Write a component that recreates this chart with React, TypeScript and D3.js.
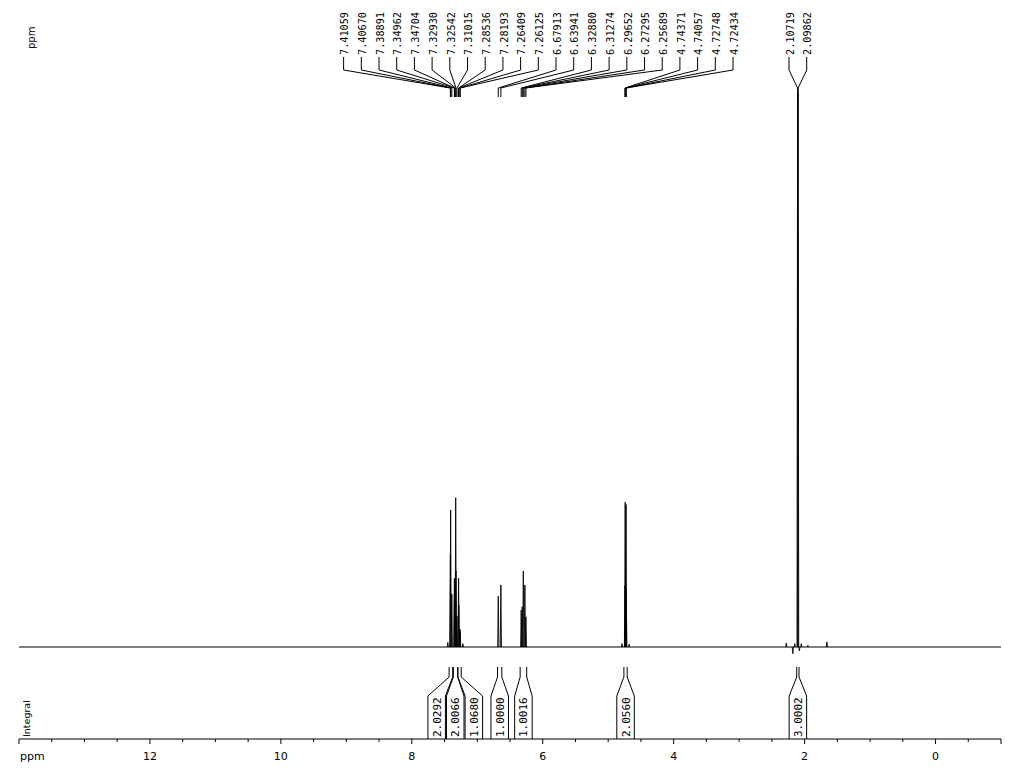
import { useEffect, useRef } from "react";
import * as d3 from "d3";

// 1H NMR peak list (ppm) with relative intensities (CH3 singlet = 100)
const peakPpm = [
  7.41059, 7.4067, 7.38891, 7.34962, 7.34704, 7.3293, 7.32542, 7.31015, 7.28536, 7.28193, 7.26409, 7.26125,
  6.67913, 6.63941,
  6.3288, 6.31274, 6.29652, 6.27295, 6.25689,
  4.74371, 4.74057, 4.72748, 4.72434,
  2.10719, 2.09862,
];
const peakHeight = [
  16.6, 24.5, 9.5, 12.3, 11.0, 26.7, 13.6, 5.5, 12.3, 7.5, 3.2, 2.8,
  9.1, 11.1,
  6.6, 7.2, 13.6, 11.1, 5.4,
  11.0, 25.9, 25.5, 10.5,
  100, 99,
];

// small unlabelled signals (satellites, impurities)
const minorPpm = [7.45, 7.22, 4.79, 4.68, 2.28, 2.18, 2.15, 2.08, 2.05, 1.95, 1.66];
const minorHeight = [0.8, 0.6, 0.6, 0.5, 0.7, -1.2, 0.6, -0.7, 0.6, 0.3, 0.9];

// integral regions
const integralFrom = [7.43, 7.365, 7.295, 6.69, 6.345, 4.76, 2.12];
const integralTo = [7.375, 7.3, 7.245, 6.625, 6.245, 4.71, 2.085];
const integralValue = ["2.0292", "2.0066", "1.0680", "1.0000", "1.0016", "2.0560", "3.0002"];

const axisTicks = [12, 10, 8, 6, 4, 2, 0];

const W = 1024;
const H = 768;

// place labels of pitch `pitch` as close as possible to their targets without overlap
function spreadLabels(targets: number[], pitch: number): number[] {
  let clusters = targets.map((_, i) => [i]);
  const start = (c: number[]) => {
    const xs = c.map((i) => targets[i]);
    const mid = (Math.min(...xs) + Math.max(...xs)) / 2;
    return mid - ((c.length - 1) * pitch) / 2;
  };
  let merged = true;
  while (merged) {
    merged = false;
    for (let k = 0; k < clusters.length - 1; k++) {
      const a = clusters[k];
      const b = clusters[k + 1];
      const aEnd = start(a) + (a.length - 1) * pitch;
      if (start(b) - aEnd < pitch) {
        clusters.splice(k, 2, [...a, ...b]);
        merged = true;
        break;
      }
    }
  }
  const out: number[] = [];
  clusters.forEach((c) => {
    const s = start(c);
    c.forEach((i, j) => (out[i] = s + j * pitch));
  });
  return out;
}

export default function App() {
  const ref = useRef<SVGSVGElement>(null);

  useEffect(() => {
    const svg = d3.select(ref.current);
    svg.selectAll("*").remove();

    const axisY = 739;
    const baseY = 647;

    const x = d3.scaleLinear().domain([14, -1]).range([19, 1001]);
    const y = d3.scaleLinear().domain([0, 100]).range([baseY, 88]);

    svg.append("rect").attr("width", W).attr("height", H).attr("fill", "#fff");

    const g = svg.append("g").attr("fill", "none").attr("stroke", "#000").attr("stroke-width", 1);

    // baseline of the spectrum
    g.append("line")
      .attr("x1", x(14)).attr("x2", x(-1))
      .attr("y1", y(0)).attr("y2", y(0));

    // peaks drawn as narrow spikes
    const hw = 0.009;
    const spike = d3.line<[number, number]>().x((d) => x(d[0])).y((d) => y(d[1]));
    const allPpm = [...peakPpm, ...minorPpm];
    const allH = [...peakHeight, ...minorHeight];
    allPpm.forEach((p, i) => {
      g.append("path")
        .attr("stroke-width", 0.9)
        .attr("d", spike([[p + hw, 0], [p, allH[i]], [p - hw, 0]]));
    });

    // peak labels
    const font = "'DejaVu Sans Mono', monospace";
    const labelX = spreadLabels(peakPpm.map((p) => x(p)), 17.7);
    peakPpm.forEach((p, i) => {
      const px = x(p);
      const lx = labelX[i];
      g.append("path").attr("d", `M${lx},57 L${lx},70 L${px},88 L${px},97`);
      svg.append("text")
        .attr("transform", `translate(${lx + 1},55) rotate(-90)`)
        .attr("dy", "0.36em")
        .attr("font-family", font)
        .attr("font-size", 10.2)
        .attr("fill", "#000")
        .text(p.toFixed(5));
    });

    // integrals
    const mids = integralFrom.map((f, i) => (x(f) + x(integralTo[i])) / 2);
    const boxX = spreadLabels(mids, 18.6);
    const bw = 17.5;
    integralFrom.forEach((f, i) => {
      const x1 = x(f);
      const x2 = x(integralTo[i]);
      const bl = boxX[i] - bw / 2;
      const br = boxX[i] + bw / 2;
      g.append("path").attr("d", `M${x1},667 L${x1},677 L${bl},696 L${bl},${axisY}`);
      g.append("path").attr("d", `M${x2},667 L${x2},677 L${br},696 L${br},${axisY}`);
      svg.append("text")
        .attr("transform", `translate(${boxX[i]},737) rotate(-90)`)
        .attr("dy", "0.36em")
        .attr("font-family", font)
        .attr("font-size", 11)
        .attr("fill", "#000")
        .text(integralValue[i]);
    });

    // ppm axis
    g.append("line").attr("x1", x(14)).attr("x2", x(-1)).attr("y1", axisY).attr("y2", axisY);
    g.selectAll(".tick")
      .data(d3.range(-1, 14.01, 0.5))
      .enter()
      .append("line")
      .attr("x1", (d) => x(d)).attr("x2", (d) => x(d))
      .attr("y1", axisY)
      .attr("y2", (d) => axisY + (axisTicks.includes(d) || d === 14 || d === -1 ? 5 : 3));

    const sans = "'DejaVu Sans', sans-serif";
    svg.append("g")
      .selectAll("text")
      .data(axisTicks)
      .enter()
      .append("text")
      .attr("x", (d) => x(d))
      .attr("y", 760)
      .attr("text-anchor", "middle")
      .attr("font-family", sans)
      .attr("font-size", 11)
      .text((d) => d);

    svg.append("text").attr("x", 20).attr("y", 760)
      .attr("font-family", sans).attr("font-size", 11).text("ppm");

    svg.append("text")
      .attr("transform", "translate(31,49) rotate(-90)")
      .attr("dy", "0.36em")
      .attr("font-family", sans).attr("font-size", 10).text("ppm");

    svg.append("text")
      .attr("transform", "translate(27,737) rotate(-90)")
      .attr("dy", "0.36em")
      .attr("font-family", sans).attr("font-size", 9.5).text("Integral");
  }, []);

  return (
    <svg
      ref={ref}
      width={W}
      height={H}
      style={{ position: "absolute", left: 0, top: 0, display: "block" }}
    />
  );
}
